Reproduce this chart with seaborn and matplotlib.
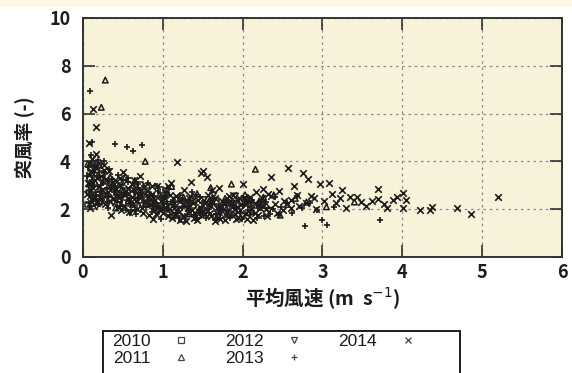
import matplotlib
matplotlib.use("Agg")
import matplotlib.pyplot as plt
import seaborn as sns
import pandas as pd
from matplotlib.patches import Rectangle

# 2010 (squares)
x10 = [0.06, 0.10, 0.15, 0.20, 0.29, 0.37, 0.46, 0.55, 0.64, 0.72,
       0.85, 0.97, 1.10, 1.24, 1.38, 1.52, 1.67, 1.83, 1.99, 2.14,
       0.08, 0.13, 0.24, 0.33, 0.51, 0.69, 0.92, 1.17, 1.45, 1.76]
y10 = [2.20, 3.70, 2.85, 2.30, 3.15, 2.90, 2.40, 2.75, 2.05, 3.00,
       2.30, 2.80, 2.10, 1.60, 2.15, 1.95, 2.35, 1.80, 2.30, 2.15,
       3.30, 2.55, 3.50, 2.45, 2.25, 2.55, 2.00, 2.40, 1.75, 2.05]

# 2011 (triangles)
x11 = [0.28, 0.23, 0.78, 2.16, 0.08, 0.13, 0.18, 0.25, 0.34, 0.41,
       0.48, 0.57, 0.65, 0.72, 0.81, 0.89, 0.96, 1.03, 1.11, 1.19,
       1.26, 1.34, 1.43, 1.51, 1.60, 1.69, 1.78, 1.86, 1.95, 2.03,
       2.12, 2.21, 2.30, 2.39, 2.47, 2.56, 2.66, 2.80, 3.05, 3.40,
       0.06, 0.11, 0.16, 0.22, 0.30, 0.38, 0.46, 0.53, 0.62, 0.70,
       0.88, 1.00, 1.13, 1.29, 1.45, 1.58, 1.74, 1.90, 2.07, 2.26]
y11 = [7.40, 6.26, 4.00, 3.67, 3.05, 2.50, 3.65, 2.75, 3.35, 2.05,
       2.80, 2.35, 3.20, 2.55, 3.00, 2.10, 2.60, 2.35, 2.95, 1.95,
       2.50, 1.80, 2.65, 2.05, 2.90, 1.75, 2.45, 3.05, 2.00, 2.60,
       1.90, 2.35, 2.15, 2.60, 1.75, 2.20, 2.45, 2.30, 2.10, 2.30,
       3.90, 2.25, 3.10, 2.35, 2.60, 3.05, 2.40, 3.35, 2.20, 2.80,
       2.45, 2.05, 2.30, 2.20, 1.95, 2.35, 2.10, 2.20, 1.85, 2.50]

# 2012 (down triangles)
x12 = [0.07, 0.12, 0.17, 0.21, 0.26, 0.33, 0.38, 0.45, 0.51, 0.59,
       0.66, 0.74, 0.82, 0.90, 0.99, 1.07, 1.15, 1.23, 1.31, 1.40,
       1.48, 1.56, 1.64, 1.73, 1.82, 1.91, 2.00, 2.09, 2.20, 2.33,
       0.09, 0.14, 0.19, 0.24, 0.31, 0.40, 0.49, 0.57, 0.68, 0.77,
       0.86, 0.95, 1.05, 1.18, 1.35, 1.52, 1.69, 1.86, 2.05, 2.25]
y12 = [2.65, 3.45, 2.10, 3.80, 2.55, 3.05, 2.25, 2.65, 3.10, 1.85,
       2.90, 2.15, 2.60, 2.00, 2.45, 2.20, 1.70, 2.35, 2.05, 2.50,
       1.75, 2.20, 2.60, 1.90, 2.05, 2.55, 1.70, 2.20, 2.05, 1.95,
       2.90, 3.65, 2.45, 3.25, 2.20, 2.85, 2.05, 2.45, 2.35, 2.70,
       2.25, 1.90, 2.60, 2.00, 2.25, 2.40, 1.65, 2.25, 2.40, 2.20]

# 2013 (plus)
x13 = [0.09, 0.11, 0.40, 0.55, 0.63, 0.74, 0.05, 0.07, 0.10, 0.12,
       0.14, 0.16, 0.19, 0.22, 0.24, 0.27, 0.30, 0.32, 0.36, 0.39,
       0.43, 0.46, 0.49, 0.54, 0.57, 0.60, 0.64, 0.67, 0.70, 0.76,
       0.79, 0.82, 0.86, 0.91, 0.94, 0.98, 1.01, 1.05, 1.09, 1.13,
       1.17, 1.21, 1.24, 1.28, 1.32, 1.36, 1.41, 1.45, 1.49, 1.54,
       1.58, 1.62, 1.67, 1.71, 1.76, 1.80, 1.84, 1.89, 1.93, 1.97,
       2.01, 2.07, 2.12, 2.18, 2.23, 2.29, 2.34, 2.41, 2.48, 2.55,
       2.62, 2.68, 2.74, 2.78, 2.85, 2.93, 3.00, 3.06, 3.15, 3.72,
       0.06, 0.08, 0.13, 0.17, 0.21, 0.25, 0.31, 0.35, 0.41, 0.47,
       0.52, 0.58, 0.65, 0.71, 0.77, 0.84, 0.89, 0.96, 1.02, 1.08,
       1.14, 1.20, 1.27, 1.33, 1.39, 1.46, 1.52, 1.59, 1.66, 1.73,
       1.79, 1.86, 1.92, 1.99, 2.05, 2.14, 2.21, 2.27, 2.38, 2.46,
       0.10, 0.15, 0.20, 0.26, 0.33, 0.44, 0.56, 0.69, 0.81, 0.93]
y13 = [6.96, 4.80, 4.73, 4.60, 4.43, 4.69, 3.40, 2.80, 3.95, 2.35,
       3.20, 2.60, 4.05, 3.00, 2.40, 3.55, 2.90, 2.05, 3.25, 2.70,
       2.30, 3.00, 2.55, 1.95, 3.15, 2.25, 2.70, 1.80, 2.45, 2.95,
       2.10, 2.50, 1.90, 2.25, 2.75, 1.60, 2.20, 2.90, 1.75, 2.40,
       1.85, 2.60, 2.05, 1.70, 2.30, 2.70, 1.55, 1.95, 2.25, 1.65,
       2.00, 2.45, 1.80, 2.15, 1.95, 2.40, 1.65, 2.10, 2.35, 1.85,
       2.15, 1.95, 2.40, 1.65, 2.05, 2.30, 1.80, 2.50, 2.10, 2.25,
       1.85, 2.55, 2.05, 1.30, 2.25, 1.95, 1.55, 1.34, 2.10, 1.55,
       3.75, 2.25, 2.95, 3.40, 2.70, 3.10, 2.50, 2.85, 2.60, 2.15,
       2.65, 2.40, 1.95, 2.80, 2.35, 2.15, 2.55, 2.05, 2.45, 1.95,
       2.10, 1.65, 2.40, 1.95, 1.75, 2.50, 1.85, 2.20, 1.55, 2.00,
       2.25, 1.75, 2.05, 1.60, 2.35, 1.85, 2.20, 1.70, 2.00, 1.75,
       4.25, 3.85, 2.20, 4.00, 3.70, 3.45, 3.30, 3.05, 3.10, 2.95]

# 2014 (x)
x14 = [0.12, 0.16, 0.08, 0.10, 0.13, 0.18, 0.21, 0.26, 0.31, 0.35,
       0.40, 0.44, 0.50, 0.53, 0.58, 0.62, 0.66, 0.71, 0.75, 0.80,
       0.84, 0.88, 0.93, 0.97, 1.02, 1.06, 1.10, 1.14, 1.18, 1.22,
       1.27, 1.31, 1.35, 1.39, 1.44, 1.48, 1.50, 1.53, 1.57, 1.61,
       1.66, 1.70, 1.74, 1.79, 1.83, 1.87, 1.92, 1.96, 2.00, 2.04,
       2.08, 2.13, 2.17, 2.22, 2.26, 2.31, 2.35, 2.40, 2.45, 2.50,
       2.57, 2.60, 2.64, 2.70, 2.76, 2.82, 2.86, 2.92, 2.97, 3.02,
       3.08, 3.12, 3.17, 3.22, 3.25, 3.30, 3.35, 3.43, 3.48, 3.55,
       3.62, 3.70, 3.70, 3.77, 3.81, 3.88, 3.93, 4.01, 4.05, 4.01,
       4.22, 4.37, 4.35, 4.69, 4.86, 5.20,
       0.06, 0.09, 0.11, 0.15, 0.17, 0.20, 0.23, 0.28, 0.33, 0.38,
       0.42, 0.47, 0.52, 0.56, 0.61, 0.68, 0.73, 0.78, 0.83, 0.90,
       0.95, 1.00, 1.04, 1.08, 1.12, 1.16, 1.20, 1.25, 1.29, 1.33,
       1.37, 1.42, 1.46, 1.55, 1.59, 1.63, 1.68, 1.72, 1.77, 1.81,
       1.85, 1.90, 1.94, 1.98, 2.02, 2.06, 2.11, 2.15, 2.19, 2.24,
       0.05, 0.07, 0.09, 0.11, 0.14, 0.19, 0.24, 0.29, 0.34, 0.39,
       0.43, 0.48, 0.54, 0.59, 0.64, 0.69, 0.74, 0.81, 0.87, 0.92,
       0.98, 1.03, 1.09, 1.15, 1.21, 1.26, 1.32, 1.38, 1.43, 1.49,
       1.54, 1.60, 1.65, 1.71, 1.78, 1.84, 1.91, 1.97, 2.03, 2.09,
       2.16, 2.23, 2.29, 2.36, 2.43, 2.52, 2.61, 2.68, 2.79, 2.90,
       0.16, 0.27, 0.46, 0.63, 0.86, 1.07, 1.34, 1.62, 1.88, 2.32]
y14 = [6.18, 5.43, 4.75, 3.60, 2.90, 3.30, 2.45, 3.85, 2.70, 1.75,
       3.20, 2.10, 3.55, 2.60, 1.90, 3.05, 2.35, 3.40, 1.85, 2.75,
       2.20, 1.60, 2.95, 1.95, 2.50, 1.70, 3.10, 2.25, 3.98, 1.55,
       2.80, 2.05, 3.15, 1.65, 2.40, 3.50, 3.60, 1.80, 2.60, 2.15,
       1.50, 2.90, 2.35, 1.75, 2.55, 2.10, 1.60, 2.45, 3.05, 1.85,
       2.30, 1.55, 2.70, 2.05, 2.85, 1.70, 3.35, 2.20, 2.75, 1.95,
       3.73, 2.40, 2.95, 2.15, 3.51, 3.26, 2.55, 2.00, 3.05, 2.35,
       3.10, 2.65, 2.25, 2.45, 2.80, 2.05, 2.50, 2.50, 2.30, 2.15,
       2.35, 2.85, 2.43, 2.20, 2.05, 2.40, 2.50, 2.68, 2.40, 2.05,
       1.97, 2.10, 1.95, 2.04, 1.80, 2.52,
       3.10, 2.55, 4.10, 3.75, 2.25, 2.95, 3.40, 2.20, 3.60, 2.45,
       2.85, 3.30, 2.15, 2.90, 2.50, 2.00, 2.65, 2.30, 1.75, 2.40,
       2.15, 1.85, 2.70, 2.00, 1.65, 2.55, 1.90, 2.20, 1.50, 2.45,
       1.95, 1.70, 2.10, 3.35, 1.85, 2.30, 2.05, 1.60, 2.20, 1.90,
       2.25, 2.00, 1.65, 2.20, 2.45, 1.60, 2.00, 2.25, 1.75, 2.45,
       2.65, 3.45, 2.05, 3.15, 2.45, 3.95, 2.80, 3.25, 2.35, 3.05,
       2.55, 1.95, 2.75, 2.25, 3.20, 2.60, 2.05, 2.50, 2.95, 1.80,
       2.35, 2.10, 2.60, 1.80, 2.35, 1.70, 1.85, 2.25, 1.55, 1.90,
       2.30, 1.70, 2.45, 1.90, 1.55, 2.35, 1.80, 1.95, 2.20, 2.50,
       1.85, 2.30, 2.00, 2.55, 1.85, 2.35, 2.05, 2.60, 2.25, 2.45,
       4.30, 3.65, 3.00, 2.85, 2.65, 2.95, 2.55, 2.80, 2.60, 2.65]

years = ["2010", "2011", "2012", "2013", "2014"]
series = [(x10, y10), (x11, y11), (x12, y12), (x13, y13), (x14, y14)]
markers = {"2010": "s", "2011": "^", "2012": "v", "2013": "+", "2014": "x"}

frames = []
for yr, (xs, ys) in zip(years, series):
    frames.append(pd.DataFrame({"wind": xs, "gust": ys, "year": yr}))
df = pd.concat(frames, ignore_index=True)

sns.set_style("ticks")
plt.rcParams['font.family'] = ['Noto Sans CJK JP', 'DejaVu Sans']
plt.rcParams['mathtext.fontset'] = 'dejavusans'

fig = plt.figure(figsize=(5.72, 3.73), dpi=100)
fig.patch.set_facecolor("white")
fig.patches.append(Rectangle((0, 1 - 7 / 373), 1, 7 / 373, transform=fig.transFigure,
                             facecolor="#fdf9e4", edgecolor="none", zorder=0))

ax = fig.add_axes([0.145, 0.311, 0.8375, 0.641])
ax.set_facecolor("#f7f2da")

ink = "#1c1c1c"
for yr in years:
    sub = df[df["year"] == yr]
    mk = markers[yr]
    if mk in ("+", "x"):
        sns.scatterplot(data=sub, x="wind", y="gust", marker=mk, color=ink,
                        s=22, linewidth=1.2, ax=ax, legend=False, zorder=3)
    else:
        sns.scatterplot(data=sub, x="wind", y="gust", marker=mk,
                        facecolor="none", edgecolor=ink, s=16, linewidth=1.1,
                        ax=ax, legend=False, zorder=3)

ax.set_xlim(0, 6)
ax.set_ylim(0, 10)
ax.set_xticks(range(0, 7))
ax.set_yticks(range(0, 11, 2))
ax.grid(True, color="#8a8a8a", linestyle=(0, (2, 3)), linewidth=0.9, zorder=1)
ax.set_axisbelow(True)

for sp in ax.spines.values():
    sp.set_color("#333333")
    sp.set_linewidth(1.4)
ax.tick_params(direction="in", length=8.5, width=1.2, color="#333333",
               top=True, right=True, labelsize=13)
ax.tick_params(axis="y", pad=9)
ax.tick_params(axis="x", pad=4)
for lab in ax.get_xticklabels() + ax.get_yticklabels():
    lab.set_fontweight("bold")
    lab.set_color(ink)

ax.set_xlabel("平均風速 (m  s$^{-1}$)", fontsize=14, fontweight="bold",
              color=ink, labelpad=3)
ax.set_ylabel("突風率 (-)", fontsize=13.5, fontweight="bold",
              color=ink, labelpad=11)

# legend under the plot: label first, then marker; box drawn separately
handles = []
for yr in years:
    mk = markers[yr]
    if mk in ("+", "x"):
        h = plt.Line2D([], [], linestyle="none", marker=mk, color="#444444",
                       markersize=4, markeredgewidth=0.9)
    else:
        h = plt.Line2D([], [], linestyle="none", marker=mk, markerfacecolor="none",
                       markeredgecolor="#444444", markersize=4, markeredgewidth=0.9)
    handles.append(h)
leg = fig.legend(handles, years, loc="upper left",
                 bbox_to_anchor=(112 / 572, 1 - 334 / 373),
                 ncol=3, markerfirst=False, frameon=False,
                 prop={"family": "Liberation Sans", "size": 12.5},
                 handlelength=1.0, handletextpad=1.25, columnspacing=2.05,
                 labelspacing=0.12, borderpad=0, borderaxespad=0)
for t in leg.get_texts():
    t.set_color(ink)
fig.patches.append(Rectangle((103 / 572, -0.05), (460 - 103) / 572, (373 - 331) / 373 + 0.05,
                             transform=fig.transFigure, facecolor="none",
                             edgecolor=ink, linewidth=1.4, zorder=5))

fig.savefig("out.png", dpi=100)
